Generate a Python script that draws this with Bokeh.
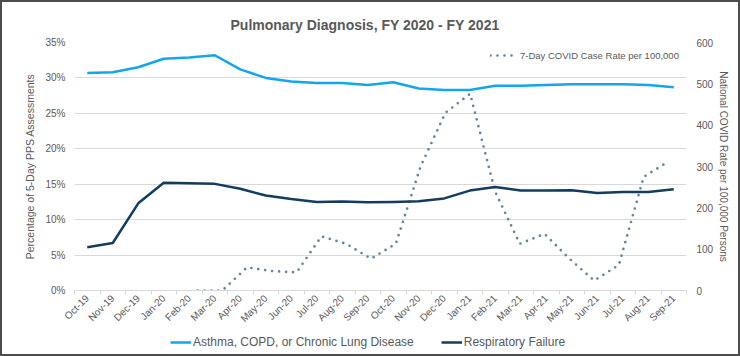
import math
from bokeh.plotting import figure
from bokeh.layouts import column
from bokeh.models import (Range1d, LinearAxis, FixedTicker,
                          SingleIntervalTicker, PrintfTickFormatter, Legend, LegendItem)
from bokeh.embed import file_html
from bokeh.resources import INLINE

months = ["Oct-19", "Nov-19", "Dec-19", "Jan-20", "Feb-20", "Mar-20", "Apr-20", "May-20",
          "Jun-20", "Jul-20", "Aug-20", "Sep-20", "Oct-20", "Nov-20", "Dec-20", "Jan-21",
          "Feb-21", "Mar-21", "Apr-21", "May-21", "Jun-21", "Jul-21", "Aug-21", "Sep-21"]

asthma_copd = [30.7, 30.8, 31.5, 32.7, 32.9, 33.2, 31.2, 30.0, 29.5, 29.3, 29.3, 29.0,
               29.4, 28.5, 28.3, 28.3, 28.9, 28.9, 29.0, 29.1, 29.1, 29.1, 29.0, 28.7]

respiratory_failure = [6.1, 6.7, 12.3, 15.2, 15.15, 15.05, 14.35, 13.4, 12.9, 12.5, 12.55, 12.45,
                       12.5, 12.6, 13.0, 14.1, 14.6, 14.1, 14.1, 14.15, 13.75, 13.9, 13.9, 14.3]

nan = float("nan")
covid_rate = [nan, nan, nan, nan, 0, 0, 56, 47, 44, 131, 113, 77,
              113, 300, 430, 476, 240, 113, 137, 77, 24, 62, 275, 312]

TXT = "#595959"
GRID = "#D9D9D9"
FONT = "Liberation Sans"
C_AST = "#13A6EF"
C_RES = "#133D5E"
C_COV = "#62849E"

n = len(months)
idx = list(range(n))
centers = [i + 0.5 for i in idx]          # category centres on the primary axis

p = figure(width=736, height=328, x_range=Range1d(0, n), y_range=Range1d(0, 35),
           output_backend="svg", toolbar_location=None, x_axis_location=None,
           min_border_left=72, min_border_right=52, min_border_top=40, min_border_bottom=40)
p.outline_line_color = None
p.xgrid.grid_line_color = None
p.ygrid.grid_line_color = GRID
p.ygrid.grid_line_width = 1
p.ygrid.ticker = SingleIntervalTicker(interval=5, num_minor_ticks=0)

p.extra_y_ranges = {"covid": Range1d(0, 600)}
# secondary horizontal axis of the COVID series (as in the source chart)
p.extra_x_ranges = {"covid": Range1d(-0.962, 23.726)}

# title
p.title.text = "Pulmonary Diagnosis, FY 2020 - FY 2021"
p.title.align = "left"
p.title.offset = 156
p.title.text_font = FONT
p.title.text_font_size = "14px"
p.title.text_font_style = "bold"
p.title.text_color = TXT
p.title.standoff = 19

# left axis
ya = p.yaxis[0]
ya.ticker = SingleIntervalTicker(interval=5, num_minor_ticks=0)
ya.formatter = PrintfTickFormatter(format="%d%%")
ya.axis_line_color = None
ya.major_tick_line_color = None
ya.minor_tick_line_color = None
ya.major_label_standoff = 3
ya.major_label_text_font = FONT
ya.major_label_text_font_size = "10px"
ya.major_label_text_color = TXT
ya.axis_label = "Percentage of 5-Day PPS Assessments"
ya.axis_label_text_font = FONT
ya.axis_label_text_font_size = "10.5px"
ya.axis_label_text_font_style = "normal"
ya.axis_label_text_color = TXT
ya.axis_label_standoff = 6

# right axis
ra = LinearAxis(y_range_name="covid", ticker=SingleIntervalTicker(interval=100, num_minor_ticks=0))
ra.axis_line_color = None
ra.major_tick_line_color = None
ra.minor_tick_line_color = None
ra.major_label_standoff = 4
ra.major_label_text_font = FONT
ra.major_label_text_font_size = "10px"
ra.major_label_text_color = TXT
ra.axis_label = "National COVID Rate per 100,000 Persons"
ra.axis_label_text_font = FONT
ra.axis_label_text_font_size = "10px"
ra.axis_label_text_font_style = "normal"
ra.axis_label_text_color = TXT
ra.axis_label_standoff = 2
p.add_layout(ra, "right")

# bottom axis: month labels at centres, tick marks at category boundaries
xa = LinearAxis(ticker=FixedTicker(ticks=centers, minor_ticks=list(range(n + 1))))
xa.major_label_overrides = {c: m for c, m in zip(centers, months)}
xa.axis_line_color = GRID
xa.major_tick_line_color = None
xa.minor_tick_line_color = GRID
xa.minor_tick_out = 4
xa.minor_tick_in = 0
xa.major_tick_out = 0
xa.major_tick_in = 0
xa.major_label_orientation = math.pi / 4
xa.major_label_standoff = 2
xa.major_label_text_font = FONT
xa.major_label_text_font_size = "10px"
xa.major_label_text_color = TXT
p.add_layout(xa, "below")

# series
r_cov = p.line(x=idx, y=covid_rate, x_range_name="covid", y_range_name="covid",
               line_color=C_COV, line_width=2.7, line_dash="0 7", line_cap="round")
r_ast = p.line(x=centers, y=asthma_copd, line_color=C_AST, line_width=2.5, line_join="round")
r_res = p.line(x=centers, y=respiratory_failure, line_color=C_RES, line_width=2.5, line_join="round")

leg_top = Legend(items=[LegendItem(label="7-Day COVID Case Rate per 100,000", renderers=[r_cov])],
                 location=(416, 229), background_fill_alpha=0, border_line_color=None,
                 label_text_font=FONT, label_text_font_size="9.5px", label_text_color=TXT,
                 glyph_width=28, glyph_height=12, label_height=12, label_standoff=2,
                 margin=0, padding=4)
p.add_layout(leg_top)

# legend strip below the chart (keys only; no data drawn here)
q = figure(width=736, height=24, x_range=Range1d(0, 1), y_range=Range1d(0, 1),
           output_backend="svg", toolbar_location=None, x_axis_location=None,
           y_axis_location=None, min_border=0)
q.outline_line_color = None
q.grid.visible = False
k_ast = q.line(x=[nan], y=[nan], line_color=C_AST, line_width=2.5)
k_res = q.line(x=[nan], y=[nan], line_color=C_RES, line_width=2.5)
leg_bot = Legend(items=[LegendItem(label="Asthma, COPD, or Chronic Lung Disease", renderers=[k_ast]),
                        LegendItem(label="Respiratory Failure", renderers=[k_res])],
                 orientation="horizontal", location=(96, 4), background_fill_alpha=0,
                 border_line_color=None, label_text_font=FONT, label_text_font_size="12px",
                 label_text_color=TXT, glyph_width=21, glyph_height=16, label_height=16,
                 label_standoff=2, spacing=27, margin=0, padding=0)
q.add_layout(leg_bot)

layout = column(p, q, spacing=0, styles={"border": "2px solid #4D4D4D"})

open("out.html", "w").write(file_html(layout, INLINE))
